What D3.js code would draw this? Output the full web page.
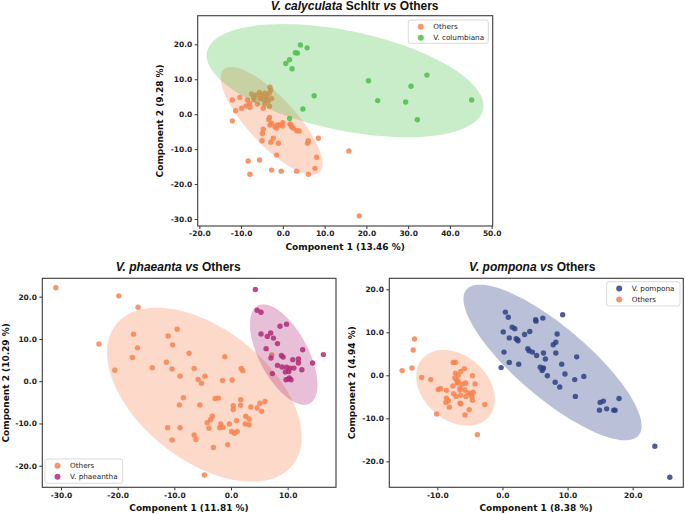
<!DOCTYPE html>
<html>
<head>
<meta charset="utf-8">
<script src="https://cdn.jsdelivr.net/npm/d3@7"></script>
<style>
	body{margin:0;background:#fff;}
	.tick text{font-family:"DejaVu Sans";font-weight:bold;font-size:7.5px;fill:#222;}
	.tick line{stroke:#333;}
</style>
</head>
<body>
<script>
	// V. calyculata panel
	let calyOthers = [
		[-12.1,4.1],[-10.3,4.8],[-11.3,1.0],[-12.1,-1.9],[-9.9,1.7],[-8.8,2.4],[-8.5,4.1],[-8.0,3.1],[-7.9,2.0],
		[-7.5,5.8],[-6.4,5.5],[-6.1,2.9],[-5.6,6.2],[-5.5,4.5],[-4.8,4.3],[-4.3,6.0],[-3.9,5.0],[-3.5,3.8],
		[-3.1,7.7],[-2.9,6.9],[-2.7,4.5],[-4.3,3.1],[-3.2,2.3],[-4.7,1.7],[-6.9,4.1],[-5.1,5.5],[-3.3,6.0],
		[-7.0,5.0],[-4.0,4.2],
		[-3.4,-1.5],[-3.2,-0.9],[-2.7,-2.6],[-3.1,-3.1],[-0.85,-3.1],[0.0,-2.4],[-0.05,-3.4],[-4.7,-4.3],
		[-4.9,-5.5],[-1.5,-4.0],[-2.3,-6.9],[-2.9,-8.0],[-1.1,-8.3],[-5.0,-7.6],[-1.5,-11.7],[1.9,-3.1],
		[2.5,-4.0],[3.3,-4.7],[3.9,-4.8],[1.7,-2.8],[2.1,-3.6],[-1.9,-3.6],[-1.3,-3.1],
		[6.1,-7.6],[5.9,-8.3],[8.5,-6.9],[8.1,-12.3],[7.7,-15.5],[6.1,-17.2],[3.3,-16.3],[-0.4,-16.3],
		[-2.7,-16.0],[-8.3,-13.4],[-5.6,-13.1],[-7.9,-17.2],[15.8,-10.5],[18.3,-29.1]
	];
	let calyColumbiana = [
		[4.2,19.8],[5.8,19.0],[3.0,17.6],[3.5,17.5],[0.7,14.5],[1.6,15.6],[2.2,13.0],[7.5,5.3],[4.8,1.5],
		[1.6,-1.2],[20.5,9.6],[22.7,3.9],[29.4,3.5],[30.7,8.0],[32.2,-1.6],[34.5,11.2],[45.2,4.1]
	];
	// confidence ellipses: centre, semi axes, angle (deg)
	let calyOthersEllipse = {cx:-2.7, cy:-1.9, a:18.7, b:6.1, angle:-53.3};
	let calyColumbianaEllipse = {cx:14.9, cy:9.6, a:34.1, b:14.1, angle:-14.9};
	let calyXTicks = [-20,-10,0,10,20,30,40,50];
	let calyYTicks = [-30,-20,-10,0,10,20];

	// V. phaeanta panel
	let phaOthers = [
		[-30.9,22.1],[-19.8,20.2],[-16.4,17.5],[-23.3,8.8],[-20.5,2.6],[-17.2,11.1],[-16.5,7.9],[-17.4,5.6],
		[-13.9,3.2],[-11.1,10.7],[-9.5,12.3],[-10.3,8.6],[-11.4,4.5],[-10.4,2.9],[-9.0,1.2],[-7.4,6.6],
		[-6.5,3.0],[-5.8,0.4],[-5.2,-0.5],[-4.6,1.2],[-1.1,5.8],[-1.5,0.2],[0.2,0.3],[1.8,3.0],[2.1,2.5],
		[-8.4,-3.9],[-9.1,-5.6],[-5.5,-5.6],[-2.8,-4.1],[-2.2,-4.0],[-3.3,-8.3],[-3.6,-9.1],[-4.2,-9.8],
		[-3.9,-11.1],[-3.1,-15.7],[-6.5,-12.7],[-6.2,-13.8],[-10.4,-13.9],[-11.2,-11.0],[-9.0,-11.0],
		[-4.7,-22.2],[-1.8,-10.1],[-1.4,-10.9],[-2.0,-11.0],[-0.3,-10.1],[0.1,-11.9],[0.6,-12.3],[1.1,-11.9],
		[-0.6,-15.0],[0.4,-5.8],[0.4,-6.7],[1.7,-4.4],[1.7,-5.7],[3.5,-6.1],[5.1,-5.2],[6.0,-4.8],
		[4.6,-6.35],[5.4,-7.1],[1.0,-9.35],[2.6,-8.3],[3.2,-8.95],[2.5,-10.1],[3.2,-10.3],[7.2,6.2]
	];
	let phaPhaeantha = [
		[4.3,21.7],[4.6,16.8],[5.3,16.3],[5.3,11.2],[6.4,10.6],[7.0,11.4],[7.5,10.2],[8.65,13.0],[9.8,13.5],
		[6.2,7.7],[8.2,8.9],[7.05,5.5],[8.9,6.1],[9.2,5.7],[12.65,7.45],[10.9,5.1],[11.9,5.25],[11.9,4.3],
		[8.2,3.75],[9.0,3.35],[9.8,3.3],[10.4,3.1],[11.1,3.1],[10.2,2.3],[9.6,2.2],[12.5,2.7],[14.4,4.3],
		[16.3,6.3],[7.3,1.8],[9.7,0.35],[10.1,0.5],[10.6,0.35],[10.3,0.8]
	];
	let phaOthersEllipse = {cx:-4.7, cy:-3.2, a:23.3, b:13.25, angle:-55.2};
	let phaPhaeanthaEllipse = {cx:9.3, cy:6.3, a:12.5, b:4.52, angle:-70.5};
	let phaXTicks = [-30,-20,-10,0,10];
	let phaYTicks = [-20,-10,0,10,20];

	// V. pompona panel
	let pomPompona = [
		[-0.2,1.8],[0.24,5.4],[0.13,10.1],[0.45,14.7],[0.9,13.5],[1.05,8.7],[1.05,3.0],[1.5,11.2],[1.9,10.85],
		[2.1,8.5],[2.4,8.05],[2.3,8.3],[2.5,2.6],[3.4,9.5],[4.2,10.2],[3.9,6.2],[4.1,5.7],[4.6,5.4],[5.25,4.6],
		[5.1,12.95],[5.15,12.6],[6.2,13.3],[6.3,5.2],[6.6,3.8],[5.8,1.9],[6.2,1.55],[6.3,1.7],[6.1,1.1],
		[6.9,-0.1],[7.8,7.1],[8.2,7.7],[8.4,9.6],[8.2,5.2],[8.1,-1.6],[9.25,14.1],[9.1,2.6],[9.6,0.3],
		[8.8,-2.7],[11.4,4.3],[11.1,-1.0],[12.5,-0.25],[11.2,-4.9],[15.0,-6.3],[15.5,-6.0],[14.9,-8.1],
		[16.0,-7.8],[17.1,-8.1],[17.3,-8.1],[17.9,-5.4],[23.4,-16.5],[25.7,-23.7]
	];
	let pomOthers = [
		[-15.4,1.1],[-13.9,1.7],[-13.7,5.9],[-13.5,8.45],[-12.4,-0.5],[-11.0,-1.0],[-10.1,-9.0],[-9.85,-3.3],
		[-9.5,-3.1],[-8.6,-5.3],[-8.7,-6.3],[-8.3,-5.9],[-8.15,-7.4],[-8.6,-3.5],[-7.6,-2.5],[-7.5,-4.3],
		[-7.55,3.0],[-7.2,3.0],[-7.2,0.5],[-7.3,-0.6],[-6.8,0.0],[-6.9,-1.8],[-6.4,0.9],[-5.85,1.55],
		[-6.5,-2.95],[-6.1,-2.0],[-5.65,-1.8],[-7.1,-4.9],[-6.4,-4.6],[-6.4,-6.6],[-6.5,-6.5],[-5.6,-4.9],
		[-5.25,-4.1],[-4.8,-4.3],[-4.5,-3.95],[-4.6,-5.8],[-4.7,-5.0],[-4.6,-0.1],[-4.2,-2.0],[-5.1,-8.0],
		[-5.75,-9.2],[-2.7,-6.8],[-3.85,-13.8],[-6.8,-1.5],[-6.5,-3.4],[-5.75,-3.4],[-7.0,-1.2]
	];
	let pomPomponaEllipse = {cx:7.69, cy:2.99, a:21.7, b:6.6, angle:-54.6};
	let pomOthersEllipse = {cx:-7.2, cy:-2.9, a:9.12, b:5.56, angle:-70.9};
	let pomXTicks = [-10,0,10,20];
	let pomYTicks = [-20,-10,0,10,20];

	let colors = {others:'#f7824f', green:'#4cbf4c', purple:'#b02a78', navy:'#2f4185'};

	let panels = [
		{
			box:{x0:197.7, x1:492.7, y0:15.7, y1:226},
			xDomain:[-20.4, 50.25], yDomain:[-32.0, 28.2],
			xTicks:calyXTicks, yTicks:calyYTicks,
			title:[['V. calyculata', true], [' Schltr ', false], ['vs', true], [' Others', false]],
			titleX:354.7, titleY:10.3,
			xLabel:'Component 1 (13.46 %)', xLabelX:345.2, xLabelY:250,
			yLabel:'Component 2 (9.28 %)', yLabelX:163.3,
			groups:[
				{name:'Others', pts:calyOthers, ell:calyOthersEllipse, color:colors.others},
				{name:'V. columbiana', pts:calyColumbiana, ell:calyColumbianaEllipse, color:colors.green}
			],
			legend:{x:408.3, y:20, w:80, h:23.3}
		},
		{
			box:{x0:42.3, x1:336, y0:278.3, y1:487.3},
			xDomain:[-33.3, 18.53], yDomain:[-25.1, 24.35],
			xTicks:phaXTicks, yTicks:phaYTicks,
			title:[['V. phaeanta', true], [' ', false], ['vs', true], [' Others', false]],
			titleX:178.2, titleY:271.3,
			xLabel:'Component 1 (11.81 %)', xLabelX:189, xLabelY:511,
			yLabel:'Component 2 (10.29 %)', yLabelX:8.8,
			groups:[
				{name:'Others', pts:phaOthers, ell:phaOthersEllipse, color:colors.others},
				{name:'V. phaeantha', pts:phaPhaeantha, ell:phaPhaeanthaEllipse, color:colors.purple}
			],
			legend:{x:45, y:459, w:77.7, h:24.3}
		},
		{
			box:{x0:389.3, x1:683.3, y0:278.3, y1:487.3},
			xDomain:[-17.37, 27.77], yDomain:[-26.04, 22.56],
			xTicks:pomXTicks, yTicks:pomYTicks,
			title:[['V. pompona', true], [' ', false], ['vs', true], [' Others', false]],
			titleX:532.2, titleY:271.3,
			xLabel:'Component 1 (8.38 %)', xLabelX:536, xLabelY:511,
			yLabel:'Component 2 (4.94 %)', yLabelX:355,
			groups:[
				{name:'V. pompona', pts:pomPompona, ell:pomPomponaEllipse, color:colors.navy},
				{name:'Others', pts:pomOthers, ell:pomOthersEllipse, color:colors.others}
			],
			legend:{x:606.7, y:281.7, w:73.3, h:24.3}
		}
	];

	let fmt = d => d3.format('.1f')(d).replace('\u2212', '-');

	let svg = d3.select('body').append('svg')
		.attr('width', 685)
		.attr('height', 514)
		.style('font-family', 'DejaVu Sans');

	panels.forEach(drawPanel);

	function drawPanel(p, i){
		let b = p.box;
		let x = d3.scaleLinear().domain(p.xDomain).range([b.x0, b.x1]);
		let y = d3.scaleLinear().domain(p.yDomain).range([b.y1, b.y0]);
		let g = svg.append('g');

		// clip for marks
		g.append('clipPath').attr('id', 'clip' + i)
			.append('rect')
			.attr('x', b.x0).attr('y', b.y0)
			.attr('width', b.x1 - b.x0).attr('height', b.y1 - b.y0);
		let marks = g.append('g').attr('clip-path', 'url(#clip' + i + ')');

		// ellipse, then its points, group by group
		p.groups.forEach(grp => {
			marks.append('path')
				.attr('d', ellipsePath(grp.ell, x, y))
				.attr('fill', grp.color)
				.attr('fill-opacity', grp.color === colors.navy ? 0.33 : 0.3);
			marks.append('g')
				.selectAll('circle')
				.data(grp.pts).enter()
				.append('circle')
				.attr('cx', d => x(d[0]))
				.attr('cy', d => y(d[1]))
				.attr('r', 2.7)
				.attr('fill', grp.color)
				.attr('fill-opacity', 0.85);
		});

		// axes
		g.append('g')
			.attr('transform', 'translate(0,' + b.y1 + ')')
			.call(d3.axisBottom(x).tickValues(p.xTicks).tickFormat(fmt).tickSize(3).tickPadding(2))
			.call(a => a.select('.domain').remove());
		g.append('g')
			.attr('transform', 'translate(' + b.x0 + ',0)')
			.call(d3.axisLeft(y).tickValues(p.yTicks).tickFormat(fmt).tickSize(3).tickPadding(2.4))
			.call(a => a.select('.domain').remove());

		// frame
		g.append('rect')
			.attr('x', b.x0).attr('y', b.y0)
			.attr('width', b.x1 - b.x0).attr('height', b.y1 - b.y0)
			.attr('fill', 'none')
			.attr('stroke', '#3a3a3a')
			.attr('stroke-width', 1.1);

		// title
		let t = g.append('text')
			.attr('x', p.titleX).attr('y', p.titleY)
			.attr('text-anchor', 'middle')
			.style('font-family', '"Liberation Sans", Arial, sans-serif')
			.style('font-weight', 'bold')
			.style('font-size', '12px')
			.attr('fill', '#111');
		p.title.forEach(part => {
			t.append('tspan')
				.style('font-style', part[1] ? 'italic' : 'normal')
				.text(part[0]);
		});

		// axis labels
		g.append('text')
			.attr('x', p.xLabelX).attr('y', p.xLabelY)
			.attr('text-anchor', 'middle')
			.style('font-weight', 'bold')
			.style('font-size', '9px')
			.attr('fill', '#111')
			.text(p.xLabel);
		g.append('text')
			.attr('transform', 'translate(' + p.yLabelX + ',' + ((b.y0 + b.y1) / 2) + ') rotate(-90)')
			.attr('text-anchor', 'middle')
			.style('font-weight', 'bold')
			.style('font-size', '9px')
			.attr('fill', '#111')
			.text(p.yLabel);

		// legend
		let L = p.legend;
		let lg = g.append('g').attr('transform', 'translate(' + L.x + ',' + L.y + ')');
		lg.append('rect')
			.attr('width', L.w).attr('height', L.h)
			.attr('rx', 2)
			.attr('fill', '#fff').attr('fill-opacity', 0.8)
			.attr('stroke', '#d0d0d0').attr('stroke-width', 0.8);
		let rows = lg.selectAll('.row')
			.data(p.groups).enter()
			.append('g')
			.attr('class', 'row')
			.attr('transform', (d, k) => 'translate(0,' + (6.7 + k * 11) + ')');
		rows.append('circle')
			.attr('cx', 12.5).attr('cy', 0).attr('r', 3)
			.attr('fill', d => d.color)
			.attr('fill-opacity', 0.85);
		rows.append('text')
			.attr('x', 25).attr('y', 2.6)
			.style('font-size', '7.25px')
			.attr('fill', '#222')
			.text(d => d.name);
	}

	function ellipsePath(e, x, y){
		let th = e.angle * Math.PI / 180;
		let pts = d3.range(0, 120).map(k => {
			let t = k / 120 * 2 * Math.PI;
			let dx = e.a * Math.cos(t) * Math.cos(th) - e.b * Math.sin(t) * Math.sin(th);
			let dy = e.a * Math.cos(t) * Math.sin(th) + e.b * Math.sin(t) * Math.cos(th);
			return [x(e.cx + dx), y(e.cy + dy)];
		});
		return d3.line().curve(d3.curveLinearClosed)(pts);
	}
</script>
</body>
</html>
